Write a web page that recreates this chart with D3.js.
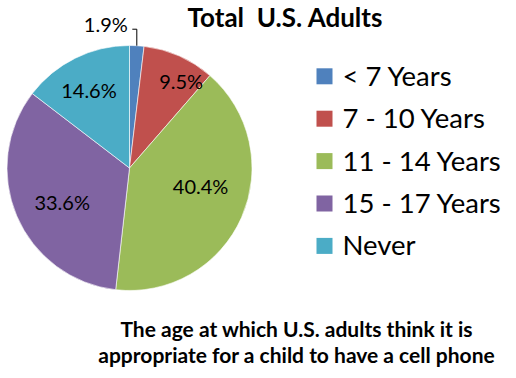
<!DOCTYPE html>
<html>
<head>
<meta charset="utf-8">
<script src="https://cdn.jsdelivr.net/npm/d3@7"></script>
<style>
  body { margin: 0; background: #fff; }
  text { font-family: Lato, "Open Sans", sans-serif; }
</style>
</head>
<body>
<div id="pieChart"></div>
<script>
var categories = ['< 7 Years', '7 - 10 Years', '11 - 14 Years', '15 - 17 Years', 'Never'];
var shares = [1.9, 9.5, 40.4, 33.6, 14.6];
var colors = ['#4F81BD', '#C0504D', '#9BBB59', '#8064A2', '#4BACC6'];
var titleText = 'Total\u00a0 U.S. Adults';
var captionLines = ['The age at which U.S. adults think it is', 'appropriate for a child to have a cell phone'];

// best-fit label nudges (angle shift in degrees, radius as fraction of r)
var labelFit = [null, {da: 7, rf: 0.82}, {da: -9, rf: 0.6}, {da: -4.5, rf: 0.62}, {da: -1.5, rf: 0.71}];

(function pieChart(){
    var width = 516, height = 378;
    var cx = 129.5, cy = 168, r = 122.5;

    var svg = d3.select('#pieChart')
        .append('svg')
            .attr('width', width)
            .attr('height', height);

    var data = categories.map(function(c, i){ return {name: c, value: shares[i], color: colors[i]}; });

    var pie = d3.pie().sort(null).value(d => d.value);
    var arc = d3.arc().innerRadius(0).outerRadius(r);
    var arcs = pie(data);

    var g = svg.append('g')
        .attr('transform', 'translate(' + cx + ',' + cy + ')');

    g.selectAll('.slice')
        .data(arcs)
        .enter()
        .append('path')
        .attr('class', 'slice')
        .attr('d', arc)
        .style('fill', d => d.data.color)
        .style('stroke', '#fff')
        .style('stroke-width', 0.6);

    function polar(angle, rad){
        return [rad * Math.sin(angle), -rad * Math.cos(angle)];
    }

    arcs.forEach(function(d, i){
        var mid = (d.startAngle + d.endAngle) / 2;
        var fit = labelFit[i];
        if (fit) {
            var p = polar(mid + fit.da * Math.PI / 180, r * fit.rf);
            g.append('text')
                .attr('x', p[0])
                .attr('y', p[1])
                .attr('dy', '0.36em')
                .style('text-anchor', 'middle')
                .style('font-size', '20px')
                .style('fill', '#000')
                .text(d.data.value.toFixed(1) + '%');
        } else {
            // small slice: label outside with elbow leader
            var edge = polar(mid, r);
            var elbowY = edge[1] - 16.5;
            g.append('path')
                .attr('d', 'M' + edge[0] + ',' + edge[1] + 'V' + elbowY + 'H' + (edge[0] - 4.5))
                .style('fill', 'none')
                .style('stroke', '#000')
                .style('stroke-width', 1);
            g.append('text')
                .attr('x', edge[0] - 9)
                .attr('y', elbowY - 4.5)
                .attr('dy', '0.36em')
                .style('text-anchor', 'end')
                .style('font-size', '20px')
                .style('fill', '#000')
                .text(d.data.value.toFixed(1) + '%');
        }
    });

    svg.append('text')
        .attr('x', 285)
        .attr('y', 27)
        .style('text-anchor', 'middle')
        .style('font-size', '26px')
        .style('font-weight', 'bold')
        .text(titleText);

    var legend = svg.selectAll('.legend')
        .data(data)
        .enter()
        .append('g')
        .attr('class', 'legend')
        .attr('transform', (d, i) => 'translate(316.5,' + (75.8 + i * 42.4) + ')');

    legend.append('rect')
        .attr('x', 0)
        .attr('y', -7.5)
        .attr('width', 16)
        .attr('height', 16)
        .style('fill', d => d.color);

    legend.append('text')
        .attr('x', 26)
        .attr('y', 0)
        .attr('dy', '0.36em')
        .style('font-size', '27.5px')
        .text(d => d.name);

    svg.selectAll('.caption')
        .data(captionLines)
        .enter()
        .append('text')
        .attr('class', 'caption')
        .attr('x', 296.5)
        .attr('y', (d, i) => 337 + i * 25.5)
        .style('text-anchor', 'middle')
        .style('font-size', '21px')
        .style('font-weight', 'bold')
        .text(d => d);
}());
</script>
</body>
</html>
